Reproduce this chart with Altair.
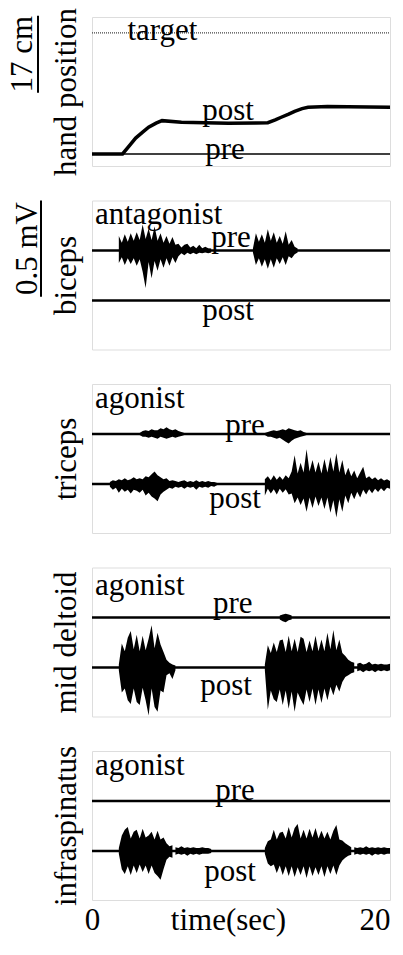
import altair as alt
import pandas as pd

FONT = "Liberation Serif"
FS = 31
STEP = 0.2  # sampling interval of the envelope readings (s)

# ---------------- hand position panel (cm) ----------------
hand_t = [0, 2.05, 2.5, 2.93, 3.4, 3.8, 4.3, 4.7, 6.0, 9.15, 11.0, 11.8, 12.3, 12.7, 13.2, 13.6, 14.1, 14.5, 15.8, 20]
hand_post = [0, 0, 1.8, 3.5, 4.8, 5.9, 6.8, 7.35, 7.0, 6.8, 6.85, 6.9, 7.5, 8.1, 8.8, 9.4, 10.0, 10.3, 10.45, 10.3]
hand_pre_level = 0.0
target_level = 26.7
hand_domain = [-2.65, 30.2]
hand_labels = ["target", "post", "pre"]
hand_label_t = [4.73, 9.13, 8.93]
hand_label_y = [25.2, 7.5, -1.1]
cm_bar = [13.5, 30.5]          # 17 cm scale bar
cm_bar_text_y = 22.0

# ---------------- EMG panels (microvolts) ----------------
emg_muscles = ["biceps", "triceps", "mid deltoid", "infraspinatus"]
emg_roles = ["antagonist", "agonist", "agonist", "agonist"]
pre_offset = 260
post_offset = 0
emg_domain = [-255, 520]
mv_bar = [20, 520]              # 0.5 mV scale bar
mv_bar_text_y = 270
role_label_t = [0.2, 0.2, 0.2, 0.2]
role_label_y = [397, 395, 376, 397]
pre_label_t = [9.33, 10.27, 9.45, 9.6]
pre_label_y = [279, 256, 281, 267]
post_label_t = [9.13, 9.6, 9.0, 9.27]
post_label_y = [-104, -125, -144, -156]

# bursts: (muscle, trace, start time, upper amplitude list, lower amplitude list)
bursts = [
    ("biceps", "pre", 1.8,
     [75, 40, 85, 45, 90, 50, 95, 55, 135, 60, 115, 55, 125, 50, 90, 40, 75, 35, 70, 30, 35, 15, 30, 35, 15, 25, 12, 30, 12, 20, 12, 10],
     [65, 35, 75, 40, 70, 40, 80, 45, 110, 195, 60, 145, 55, 105, 45, 90, 40, 80, 35, 65, 30, 15, 25, 12, 20, 12, 20, 12, 15, 10, 15, 10]),
    ("biceps", "pre", 10.8,
     [10, 90, 45, 85, 40, 110, 50, 95, 40, 75, 35, 100, 30, 55, 20, 10],
     [10, 75, 40, 85, 45, 95, 45, 90, 40, 70, 35, 75, 30, 40, 20, 10]),
    ("triceps", "pre", 3.2,
     [5, 15, 20, 15, 25, 20, 20, 30, 25, 35, 25, 20, 25, 15, 10, 5],
     [5, 15, 15, 20, 15, 20, 25, 15, 20, 25, 20, 15, 20, 15, 10, 5]),
    ("triceps", "pre", 11.6,
     [5, 10, 15, 20, 15, 20, 25, 20, 30, 25, 20, 15, 20, 10, 5],
     [5, 15, 15, 20, 25, 20, 30, 40, 50, 35, 25, 20, 15, 10, 5]),
    ("triceps", "post", 1.2,
     [10, 20, 15, 25, 20, 30, 20, 25, 35, 25, 30, 25, 40, 35, 50, 65, 45, 35, 25, 30, 15, 20, 15, 10, 15, 20, 10, 15, 10, 20, 10, 15, 10, 15, 10, 10, 5],
     [15, 30, 20, 45, 25, 40, 30, 50, 30, 35, 45, 30, 60, 45, 65, 75, 90, 55, 40, 30, 20, 25, 15, 20, 15, 25, 15, 20, 15, 30, 15, 20, 15, 20, 10, 15, 5]),
    ("triceps", "post", 11.6,
     [25, 40, 20, 45, 22, 40, 22, 45, 30, 65, 150, 55, 110, 60, 180, 65, 125, 60, 115, 55, 130, 60, 140, 65, 160, 60, 125, 45, 85, 40, 70, 30, 60, 90, 30, 40, 25, 35, 20, 30, 18, 25, 15],
     [60, 25, 50, 28, 55, 25, 45, 28, 55, 50, 100, 70, 110, 75, 145, 70, 125, 65, 115, 70, 130, 70, 150, 85, 175, 80, 145, 60, 100, 45, 80, 40, 70, 30, 55, 28, 48, 25, 42, 22, 38, 20, 25]),
    ("mid deltoid", "pre", 12.6,
     [10, 15, 20, 15, 10],
     [10, 20, 25, 15, 10]),
    ("mid deltoid", "post", 1.8,
     [15, 125, 85, 155, 190, 95, 170, 85, 165, 90, 150, 220, 100, 180, 120, 80, 40, 25, 15, 10],
     [15, 130, 110, 170, 190, 110, 180, 195, 105, 170, 250, 110, 205, 230, 120, 130, 40, 30, 60, 15]),
    ("mid deltoid", "post", 11.6,
     [15, 115, 75, 130, 80, 140, 145, 80, 165, 85, 150, 80, 160, 150, 80, 140, 85, 165, 85, 145, 85, 180, 95, 195, 90, 145, 75, 60, 40, 30, 25],
     [15, 220, 120, 165, 180, 115, 195, 120, 215, 125, 230, 130, 165, 195, 115, 180, 110, 195, 115, 185, 110, 170, 100, 145, 90, 125, 75, 50, 40, 30, 25]),
    ("mid deltoid", "post", 17.8,
     [20, 25, 15, 20, 30, 15, 20, 15, 20, 15, 15, 20],
     [20, 15, 25, 15, 20, 15, 25, 15, 20, 15, 20, 15]),
    ("infraspinatus", "post", 1.8,
     [15, 80, 110, 125, 65, 100, 110, 65, 115, 70, 80, 100, 60, 105, 60, 70, 40, 25, 30],
     [15, 95, 120, 80, 125, 75, 115, 70, 110, 75, 120, 75, 115, 130, 150, 95, 45, 30, 35]),
    ("infraspinatus", "post", 5.6,
     [20, 15, 25, 15, 20, 15, 20, 15, 15, 20, 15, 15, 10],
     [20, 15, 20, 15, 25, 15, 20, 15, 20, 15, 15, 15, 10]),
    ("infraspinatus", "post", 11.6,
     [15, 50, 60, 110, 60, 95, 100, 65, 125, 70, 120, 140, 65, 110, 65, 115, 70, 120, 65, 105, 65, 100, 60, 105, 135, 60, 55, 40, 30, 20],
     [15, 65, 80, 70, 115, 75, 125, 80, 130, 80, 135, 85, 125, 80, 140, 80, 130, 85, 125, 80, 135, 80, 120, 75, 125, 75, 50, 35, 25, 20]),
    ("infraspinatus", "post", 17.6,
     [20, 15, 20, 15, 25, 15, 20, 15, 20, 15, 20, 15, 15],
     [20, 15, 20, 15, 20, 15, 25, 15, 20, 15, 20, 15, 15]),
]

X_DOMAIN = [0, 20]
PANEL_W = 298
PANEL_H = 149
SPACING = 34.5

xs = alt.Scale(domain=X_DOMAIN, nice=False, zero=False)


def x_axis(show):
    if not show:
        return None
    return alt.Axis(values=[0, 20], ticks=False, domain=False, grid=False,
                    labelFont=FONT, labelFontSize=FS, labelColor="black",
                    labelBaseline="alphabetic", labelPadding=29,
                    labelAlign={"condition": {"test": "datum.value == 20", "value": "right"}, "value": "center"},
                    title="time(sec)", titleFont=FONT, titleFontSize=FS, titleFontWeight="normal",
                    titleColor="black", titleX=136, titleY=29, titleBaseline="alphabetic", titleAlign="center")


def y_axis(title):
    return alt.Axis(title=title, labels=False, ticks=False, domain=False, grid=False,
                    titleFont=FONT, titleFontSize=FS, titleFontWeight="normal",
                    titleColor="black", titlePadding=10)


# ---------------- hand panel ----------------
hs = alt.Scale(domain=hand_domain, nice=False, zero=False)
hax = y_axis("hand position")


def HX(f):
    return alt.X(f, type="quantitative", scale=xs, axis=None)


def HY(f):
    return alt.Y(f, type="quantitative", scale=hs, axis=hax)


levels_df = pd.DataFrame({"a": [0, 0], "b": [20, 20], "v": [target_level, hand_pre_level],
                          "kind": ["target", "pre"]})
target_rule = alt.Chart(levels_df[levels_df.kind == "target"]).mark_rule(
    color="#444", strokeWidth=1.2, strokeDash=[1, 1]).encode(x=HX("a"), x2="b", y=HY("v"))
pre_rule = alt.Chart(levels_df[levels_df.kind == "pre"]).mark_rule(
    color="black", strokeWidth=1.6).encode(x=HX("a"), x2="b", y=HY("v"))
post_line = alt.Chart(pd.DataFrame({"t": hand_t, "v": hand_post})).mark_line(
    color="black", strokeWidth=3.5).encode(x=HX("t"), y=HY("v"))
hand_text = alt.Chart(pd.DataFrame({"t": hand_label_t, "v": hand_label_y, "s": hand_labels})).mark_text(
    font=FONT, fontSize=FS, color="black", baseline="alphabetic", align="center").encode(
    x=HX("t"), y=HY("v"), text="s:N")
cm_bar_rule = alt.Chart(pd.DataFrame({"a": [cm_bar[0]], "b": [cm_bar[1]]})).mark_rule(
    color="black", strokeWidth=2).encode(x=alt.value(-54), y=HY("a"), y2="b")
cm_bar_text = alt.Chart(pd.DataFrame({"v": [cm_bar_text_y], "s": ["17 cm"]})).mark_text(
    font=FONT, fontSize=FS, color="black", angle=270, baseline="alphabetic", align="center").encode(
    x=alt.value(-60), y=HY("v"), text="s:N")

hand_panel = alt.layer(target_rule, pre_rule, post_line, hand_text, cm_bar_rule, cm_bar_text).properties(
    width=PANEL_W, height=PANEL_H)

# ---------------- EMG panels ----------------
rows = []
for k, (muscle, trace, t0, up, down) in enumerate(bursts):
    off = pre_offset if trace == "pre" else post_offset
    for i, (u, d) in enumerate(zip(up, down)):
        rows.append({"muscle": muscle, "seg": k, "t": round(t0 + i * STEP, 3), "hi": off + u, "lo": off - d})
burst_df = pd.DataFrame(rows)

es = alt.Scale(domain=emg_domain, nice=False, zero=False)


def emg_panel(idx, show_x):
    muscle = emg_muscles[idx]
    xa = x_axis(show_x)
    ya = y_axis(muscle)

    def X(f):
        return alt.X(f, type="quantitative", scale=xs, axis=xa)

    def Y(f):
        return alt.Y(f, type="quantitative", scale=es, axis=ya)

    base = alt.Chart(pd.DataFrame({"a": [0, 0], "b": [20, 20], "v": [pre_offset, post_offset]})).mark_rule(
        color="black", strokeWidth=2.6).encode(x=X("a"), x2="b", y=Y("v"))
    area = alt.Chart(burst_df[burst_df.muscle == muscle]).mark_area(
        color="black", opacity=1, interpolate="linear").encode(
        x=X("t"), y=Y("hi"), y2="lo", detail="seg:N")
    lab = pd.DataFrame({
        "t": [role_label_t[idx], pre_label_t[idx], post_label_t[idx]],
        "v": [role_label_y[idx], pre_label_y[idx], post_label_y[idx]],
        "s": [emg_roles[idx], "pre", "post"],
        "al": ["left", "center", "center"],
    })
    txt_left = alt.Chart(lab[lab.al == "left"]).mark_text(
        font=FONT, fontSize=FS, color="black", baseline="alphabetic", align="left").encode(
        x=X("t"), y=Y("v"), text="s:N")
    txt_center = alt.Chart(lab[lab.al == "center"]).mark_text(
        font=FONT, fontSize=FS, color="black", baseline="alphabetic", align="center").encode(
        x=X("t"), y=Y("v"), text="s:N")
    layers = [base, area, txt_left, txt_center]
    if idx == 0:
        bar = alt.Chart(pd.DataFrame({"a": [mv_bar[0]], "b": [mv_bar[1]]})).mark_rule(
            color="black", strokeWidth=2).encode(x=alt.value(-51), y=Y("a"), y2="b")
        bar_txt = alt.Chart(pd.DataFrame({"v": [mv_bar_text_y], "s": ["0.5 mV"]})).mark_text(
            font=FONT, fontSize=FS, color="black", angle=270, baseline="alphabetic", align="center").encode(
            x=alt.value(-55), y=Y("v"), text="s:N")
        layers += [bar, bar_txt]
    return alt.layer(*layers).properties(width=PANEL_W, height=PANEL_H)


panels = [hand_panel] + [emg_panel(i, i == len(emg_muscles) - 1) for i in range(len(emg_muscles))]

chart = alt.vconcat(*panels, spacing=SPACING, bounds="flush").properties(
    padding={"left": -2, "top": -1, "right": -6, "bottom": 5}
).configure_view(stroke="#222", strokeWidth=1.3).configure(background="white")

chart.save("out.html", embed_options={"renderer": "svg", "actions": False})
